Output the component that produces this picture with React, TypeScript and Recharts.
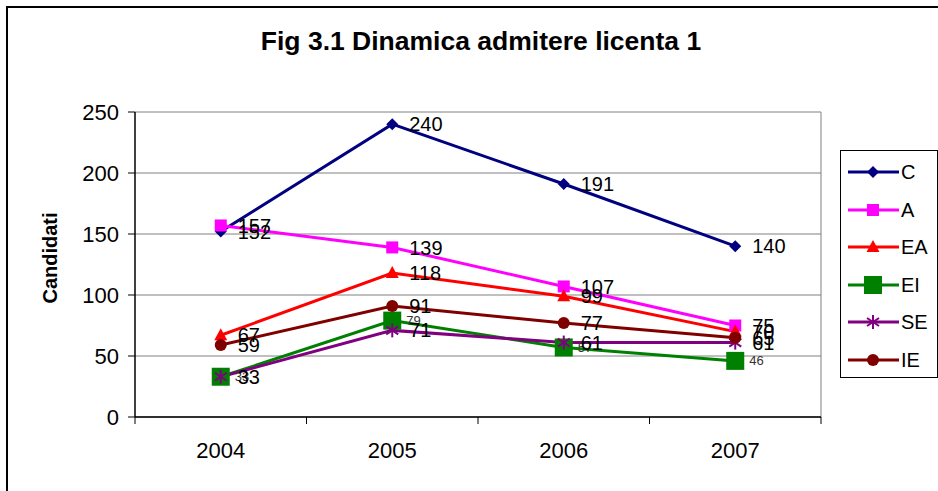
import React from 'react';
import { LineChart, Line, XAxis, YAxis, CartesianGrid, LabelList } from 'recharts';

const years = ['2004', '2005', '2006', '2007'];
const seriesC = [152, 240, 191, 140];
const seriesA = [157, 139, 107, 75];
const seriesEA = [67, 118, 99, 70];
const seriesEI = [33, 79, 57, 46];
const seriesSE = [33, 71, 61, 61];
const seriesIE = [59, 91, 77, 65];
const yTicks = [0, 50, 100, 150, 200, 250];

const W = 938;
const H = 491;
const PLOT_LEFT = 135;
const PLOT_RIGHT = 821;
const PLOT_TOP = 112;
const PLOT_BOTTOM = 417;
const HALF_BAND = (PLOT_RIGHT - PLOT_LEFT) / years.length / 2;
const FONT = 'Liberation Sans, Arial, Helvetica, sans-serif';

const data = years.map((y, i) => ({
  year: y,
  C: seriesC[i],
  A: seriesA[i],
  EA: seriesEA[i],
  EI: seriesEI[i],
  SE: seriesSE[i],
  IE: seriesIE[i],
}));

type Kind = 'diamond' | 'square' | 'triangle' | 'bigsquare' | 'star' | 'circle';

const Marker = ({ kind, cx, cy, color }: { kind: Kind; cx: number; cy: number; color: string }) => {
  switch (kind) {
    case 'diamond':
      return <polygon points={`${cx},${cy - 6} ${cx + 6},${cy} ${cx},${cy + 6} ${cx - 6},${cy}`} fill={color} />;
    case 'square':
      return <rect x={cx - 6} y={cy - 6} width={12} height={12} fill={color} />;
    case 'triangle':
      return <polygon points={`${cx},${cy - 7} ${cx + 6.5},${cy + 5} ${cx - 6.5},${cy + 5}`} fill={color} />;
    case 'bigsquare':
      return <rect x={cx - 9} y={cy - 9} width={18} height={18} fill={color} />;
    case 'star':
      return (
        <g stroke={color} strokeWidth={2}>
          <line x1={cx} y1={cy - 7} x2={cx} y2={cy + 7} />
          <line x1={cx - 6} y1={cy - 4} x2={cx + 6} y2={cy + 4} />
          <line x1={cx - 6} y1={cy + 4} x2={cx + 6} y2={cy - 4} />
        </g>
      );
    case 'circle':
      return <circle cx={cx} cy={cy} r={6} fill={color} />;
  }
  return null;
};

const SERIES: { key: string; name: string; color: string; kind: Kind; small?: boolean }[] = [
  { key: 'C', name: 'C', color: '#000080', kind: 'diamond' },
  { key: 'A', name: 'A', color: '#FF00FF', kind: 'square' },
  { key: 'EA', name: 'EA', color: '#FF0000', kind: 'triangle' },
  { key: 'EI', name: 'EI', color: '#008000', kind: 'bigsquare', small: true },
  { key: 'SE', name: 'SE', color: '#800080', kind: 'star' },
  { key: 'IE', name: 'IE', color: '#800000', kind: 'circle' },
];

const XTick = (props: any) => {
  const { x, y, payload, index } = props;
  return (
    <g>
      <line x1={x - HALF_BAND} y1={y} x2={x - HALF_BAND} y2={y + 7} stroke="#000" strokeWidth={1} />
      {index === years.length - 1 && (
        <line x1={x + HALF_BAND} y1={y} x2={x + HALF_BAND} y2={y + 7} stroke="#000" strokeWidth={1} />
      )}
      <text x={x} y={y + 41} textAnchor="middle" fontSize={22} fontFamily={FONT} fill="#000">
        {payload.value}
      </text>
    </g>
  );
};

export default function App() {
  return (
    <div style={{ position: 'absolute', left: 0, top: 0, width: W, height: H, overflow: 'hidden', background: '#fff', fontFamily: FONT }}>
      <LineChart
        width={W}
        height={H}
        data={data}
        margin={{ top: PLOT_TOP, right: W - PLOT_RIGHT, bottom: 0, left: 0 }}
      >
        <CartesianGrid
          stroke="#808080"
          horizontal={true}
          vertical={true}
          verticalPoints={[PLOT_RIGHT]}
        />
        <XAxis
          dataKey="year"
          height={H - PLOT_BOTTOM}
          axisLine={{ stroke: '#000', strokeWidth: 1.5 }}
          tickLine={false}
          tickSize={0}
          tickMargin={0}
          tick={<XTick />}
          interval={0}
          padding={{ left: HALF_BAND, right: HALF_BAND }}
        />
        <YAxis
          width={PLOT_LEFT}
          domain={[0, 250]}
          ticks={yTicks}
          axisLine={{ stroke: '#000', strokeWidth: 1.5 }}
          tickLine={{ stroke: '#000' }}
          tickSize={7}
          tickMargin={9}
          tick={{ fontSize: 22, fill: '#000', fontFamily: FONT }}
        />
        {SERIES.map((s) => (
          <Line
            key={s.key}
            dataKey={s.key}
            name={s.name}
            stroke={s.color}
            strokeWidth={3}
            isAnimationActive={false}
            dot={(p: any) => <Marker key={`${s.key}-${p.index}`} kind={s.kind} cx={p.cx} cy={p.cy} color={s.color} />}
            activeDot={false}
          >
            <LabelList
              dataKey={s.key}
              position="right"
              offset={s.small ? 14 : 17}
              style={{
                fontSize: s.small ? 13 : 20,
                fill: s.small ? '#333' : '#000',
                fontFamily: FONT,
              }}
            />
          </Line>
        ))}
      </LineChart>

      {/* outer border */}
      <div style={{ position: 'absolute', left: 6, top: 6, width: 960, height: 520, border: '2px solid #000', boxSizing: 'border-box', pointerEvents: 'none' }} />

      {/* title */}
      <div style={{ position: 'absolute', left: 0, top: 26, width: 962, textAlign: 'center', fontSize: 26.5, fontWeight: 'bold', fontFamily: FONT, color: '#000', lineHeight: '30px' }}>
        Fig 3.1 Dinamica admitere licenta 1
      </div>

      {/* y axis label */}
      <div style={{ position: 'absolute', left: 50, top: 258, width: 0, height: 0 }}>
        <div style={{ position: 'absolute', transform: 'translate(-50%, -50%) rotate(-90deg)', fontSize: 20, fontWeight: 'bold', fontFamily: FONT, whiteSpace: 'nowrap', lineHeight: '24px' }}>
          Candidati
        </div>
      </div>

      {/* legend */}
      <div style={{ position: 'absolute', left: 840, top: 150, width: 98, height: 228, border: '1px solid #000', boxSizing: 'border-box', background: '#fff' }}>
        {SERIES.map((s, i) => (
          <div key={s.key} style={{ position: 'absolute', left: 0, top: 21 + i * 37.5 - 15, height: 30, display: 'flex', alignItems: 'center' }}>
            <svg width={60} height={30} style={{ display: 'block' }}>
              <line x1={7} y1={15} x2={58} y2={15} stroke={s.color} strokeWidth={3} />
              <Marker kind={s.kind} cx={32} cy={15} color={s.color} />
            </svg>
            <span style={{ fontSize: 20, fontFamily: FONT, color: '#000', lineHeight: '30px' }}>{s.name}</span>
          </div>
        ))}
      </div>
    </div>
  );
}
